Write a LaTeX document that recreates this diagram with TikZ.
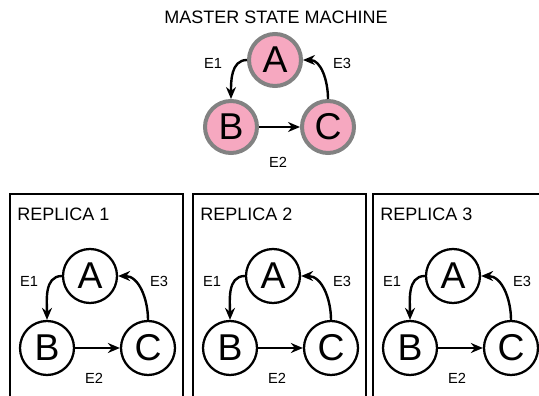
\documentclass[tikz,border=0pt]{standalone}
\usepackage{fontspec}
\setmainfont{Liberation Sans}
\usetikzlibrary{arrows.meta, positioning}
\definecolor{statepink}{RGB}{246,168,192}
\definecolor{stategray}{RGB}{130,130,130}

\begin{document}
\begin{tikzpicture}[
    x=0.75pt, y=0.75pt,
    state/.style={circle, draw=black, line width=1.7pt, fill=white, minimum size=40.5pt, inner sep=0pt, font=\fontsize{28}{28}\selectfont},
    master/.style={state, draw=stategray, line width=3pt, fill=statepink, minimum size=39pt},
    edge/.style={line width=1.8pt, -{Stealth[length=9pt, width=7.5pt]}},
    elabel/.style={inner sep=0pt, font=\fontsize{11}{12}\selectfont},
    title/.style={inner sep=0pt, font=\fontsize{13.5}{15}\selectfont}
]
\clip (0,0) rectangle (539,396);

% Master machine
\node[title] (mtitle) at (276,379) {MASTER STATE MACHINE};
\node[master] (mA) at (275,336) {A};
\node[master] (mB) at (231,269) {B};
\node[master] (mC) at (328,269) {C};

\draw[edge] (mA.west) to[out=180, in=90] (mB.north);
\draw[edge] (mB) -- (mC);
\draw[edge] (mC.north) to[out=90, in=0] (mA.east);

\node[elabel] (mE1) at (213,333) {E1};
\node[elabel] (mE2) at (278,234) {E2};
\node[elabel] (mE3) at (342,333) {E3};

% Replicas
\foreach \i/\dx in {1/0, 2/183, 3/363} {
  \begin{scope}[shift={(\dx,0)}]
    \draw[line width=1.8pt] (10,-10) rectangle (183,202);
    \node[title, anchor=west] (rtitle\i) at (17,182) {REPLICA \i};
    \node[state] (A\i) at (90,120) {A};
    \node[state] (B\i) at (47,48) {B};
    \node[state] (C\i) at (148,48) {C};

    \draw[edge] (A\i.west) to[out=180, in=90] (B\i.north);
    \draw[edge] (B\i) -- (C\i);
    \draw[edge] (C\i.north) to[out=90, in=0] (A\i.east);

    \node[elabel] (E1\i) at (29,115) {E1};
    \node[elabel] (E2\i) at (94,18) {E2};
    \node[elabel] (E3\i) at (159,115) {E3};
  \end{scope}
}

\end{tikzpicture}
\end{document}
